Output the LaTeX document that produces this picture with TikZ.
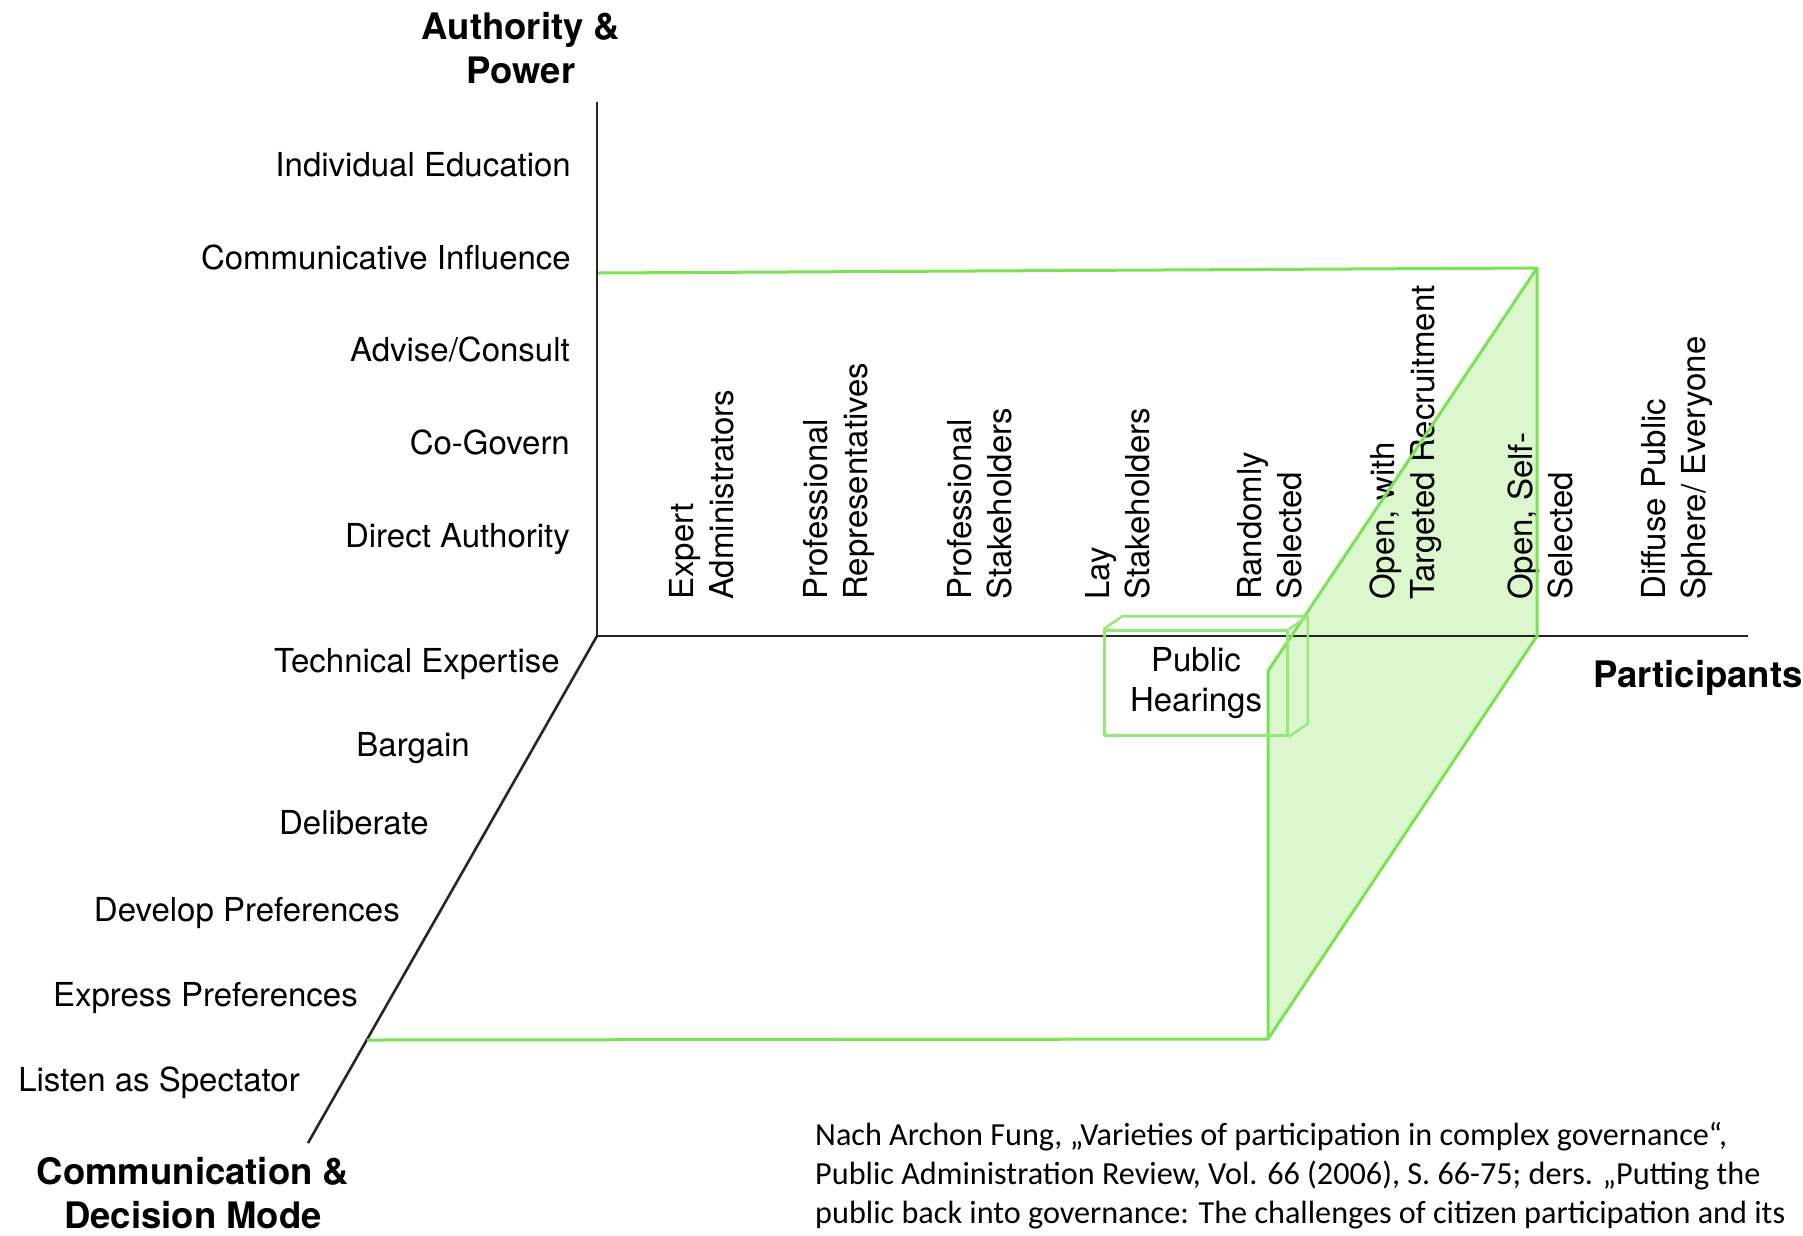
\documentclass[tikz,border=0pt]{standalone}
\usepackage{fontspec}
\setmainfont{TeX Gyre Heros}
\newfontfamily\citefont{Carlito}
\usepackage{tikz}
\usetikzlibrary{positioning,calc}
\definecolor{linegreen}{RGB}{122,226,84}
\definecolor{facegreen}{RGB}{220,247,206}

\begin{document}
\begin{tikzpicture}[x=1pt,y=-1pt,
	every node/.style={font=\fontsize{33}{40}\selectfont,inner sep=0pt},
	axis/.style={draw=black!85,line width=2.6pt},
	greenline/.style={draw=linegreen,line width=3pt,line join=round},
	boxline/.style={draw=linegreen!80,line width=2.4pt,line join=round},
	ylabel/.style={anchor=east,text height=24pt,text depth=7pt},
	collabel/.style={rotate=90,anchor=west,align=left},
	title/.style={font=\fontsize{36.5}{44}\bfseries\selectfont,align=center}]
	\useasboundingbox (0,0) rectangle (1803,1235);
	
	% corners of the green region
	\coordinate (cTL) at (598,273);
	\coordinate (cTR) at (1537,268);
	\coordinate (cMR) at (1537,636);
	\coordinate (cBR) at (1268,1039);
	\coordinate (cBL) at (367,1040);
	\coordinate (cIN) at (1268,671);
	
	\fill[facegreen] (cBR) -- (cMR) -- (cTR) -- (cIN) -- cycle;
	
	% axes
	\coordinate (O) at (597,636);
	\coordinate (ytop) at (597,102);
	\coordinate (xend) at (1748,636);
	\coordinate (zend) at (308,1143);
	\draw[axis] (ytop) -- (O) -- (xend);
	\draw[axis] (O) -- (zend);
	
	\node[title] (power) at (521,48) {Authority \&\\Power};
	\node[title] (mode) at (193,1193) {Communication \&\\Decision Mode};
	\node[title,anchor=west] (part) at (1593,678) {Participants};
	
	\node[ylabel] (indiv) at (571,168) {Individual Education};
	\node[ylabel] (comm) at (571,261) {Communicative Influence};
	\node[ylabel] (advise) at (570,353) {Advise/Consult};
	\node[ylabel] (cogov) at (570,446) {Co-Govern};
	\node[ylabel] (direct) at (570,539) {Direct Authority};
	
	\node[ylabel] (tech) at (560,664) {Technical Expertise};
	\node[ylabel] (barg) at (470,748) {Bargain};
	\node[ylabel] (delib) at (429,826) {Deliberate};
	\node[ylabel] (devel) at (400,913) {Develop Preferences};
	\node[ylabel] (expr) at (358,998) {Express Preferences};
	\node[ylabel] (listen) at (300,1083) {Listen as Spectator};
	
	\node[collabel] (expert) at (702,600) {Expert\\Administrators};
	\node[collabel] (profrep) at (839,600) {Professional\\Representatives};
	\node[collabel] (profsth) at (980,600) {Professional\\Stakeholders};
	\node[collabel] (laysth) at (1118,600) {Lay\\Stakeholders};
	\node[collabel] (random) at (1270,600) {Randomly\\Selected};
	\node[collabel] (target) at (1406,600) {Open, with\\Targeted Recruitment};
	\node[collabel] (selfsel) at (1540,600) {Open, Self-\\Selected};
	\node[collabel] (diffuse) at (1677,600) {Diffuse Public\\Sphere/ Everyone};
	
	% green outline
	\draw[greenline] (cTL) -- (cTR) -- (cMR) -- (cBR) -- (cBL);
	\draw[greenline] (cBR) -- (cIN) -- (cTR);
	
	% public hearings box
	\node[boxline,minimum width=183pt,minimum height=105pt,align=center] (hear) at (1196,683) {Public\\Hearings};
	\draw[boxline] (hear.north west) -- ++(19,-13) -- ($(hear.north east)+(19,-13)$) -- ($(hear.south east)+(19,-13)$) -- (hear.south east);
	\draw[boxline] (hear.north east) -- ++(19,-13);
	
	\node[anchor=north west,align=left,font=\citefont\fontsize{32.2}{39}\selectfont] (cite) at (815,1122) {Nach Archon Fung, „Varieties of participation in complex governance“,\\Public Administration Review, Vol. 66 (2006), S. 66-75; ders. „Putting the\\public back into governance: The challenges of citizen participation and its};
\end{tikzpicture}
\end{document}
